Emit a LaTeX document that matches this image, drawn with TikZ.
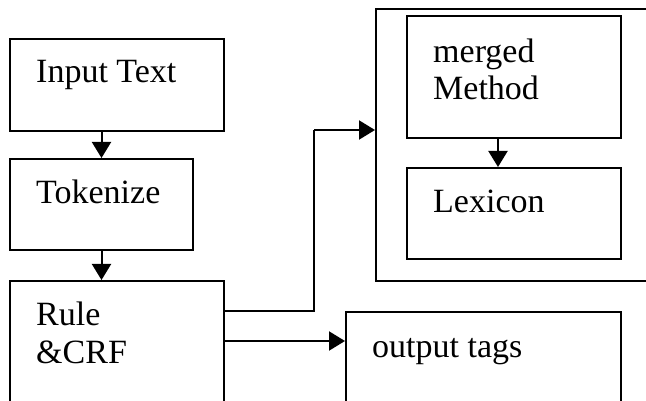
\documentclass[tikz,border=0pt]{standalone}
\usepackage{fontspec}
\setmainfont{Liberation Serif}
\usetikzlibrary{arrows.meta}
\begin{document}
\begin{tikzpicture}[x=1pt,y=-1pt,
  box/.style={draw, line width=2pt, inner sep=0pt, anchor=north west},
  lbl/.style={inner sep=0pt, anchor=base west, align=left,
    font=\fontsize{34}{37.5}\selectfont},
  arr/.style={line width=2pt, -{Triangle[length=16pt,width=19pt]}},
  wire/.style={line width=2pt}]
\useasboundingbox (0,0) rectangle (646,401);
\clip (0,0) rectangle (646,401);

% left column
\node[box, minimum width=214pt, minimum height=92pt] (input) at (9,38) {};
\node[box, minimum width=183pt, minimum height=91pt] (tok) at (9,158) {};
\node[box, minimum width=214pt, minimum height=140pt] (rule) at (9,280) {};

% right side: outer group with the two inner steps
\node[box, minimum width=330pt, minimum height=272pt] (group) at (375,8) {};
\node[box, minimum width=214pt, minimum height=122pt] (merged) at (406,15) {};
\node[box, minimum width=214pt, minimum height=91pt] (lex) at (406,167) {};
\node[box, minimum width=275pt, minimum height=110pt] (out) at (345,311) {};

% labels (two-line labels are placed by the baseline of their last line)
\node[lbl] (tInput) at (36,83) {Input Text};
\node[lbl] (tTok) at (36,204) {Tokenize};
\node[lbl] (tRule) at (36,363) {Rule\\\&CRF};
\node[lbl] (tMerged) at (433,100) {merged\\Method};
\node[lbl] (tLex) at (433,213) {Lexicon};
\node[lbl] (tOut) at (372,357) {output tags};

% routing points
\coordinate (bendLow) at (314,311);
\coordinate (bendHigh) at (314,130);
\coordinate (outRow) at (0,341);
\coordinate (mlCol) at (498,0);

% connectors
\draw[arr] (input.south -| tok.north) -- (tok.north);
\draw[arr] (tok.south) -- (rule.north -| tok.south);
\draw[wire] (rule.east |- bendLow) -- (bendLow) -- (bendHigh);
\draw[arr] (bendHigh) -- (group.west |- bendHigh);
\draw[arr] (rule.east |- outRow) -- (out.west |- outRow);
\draw[arr] (merged.south -| mlCol) -- (lex.north -| mlCol);
\end{tikzpicture}
\end{document}
